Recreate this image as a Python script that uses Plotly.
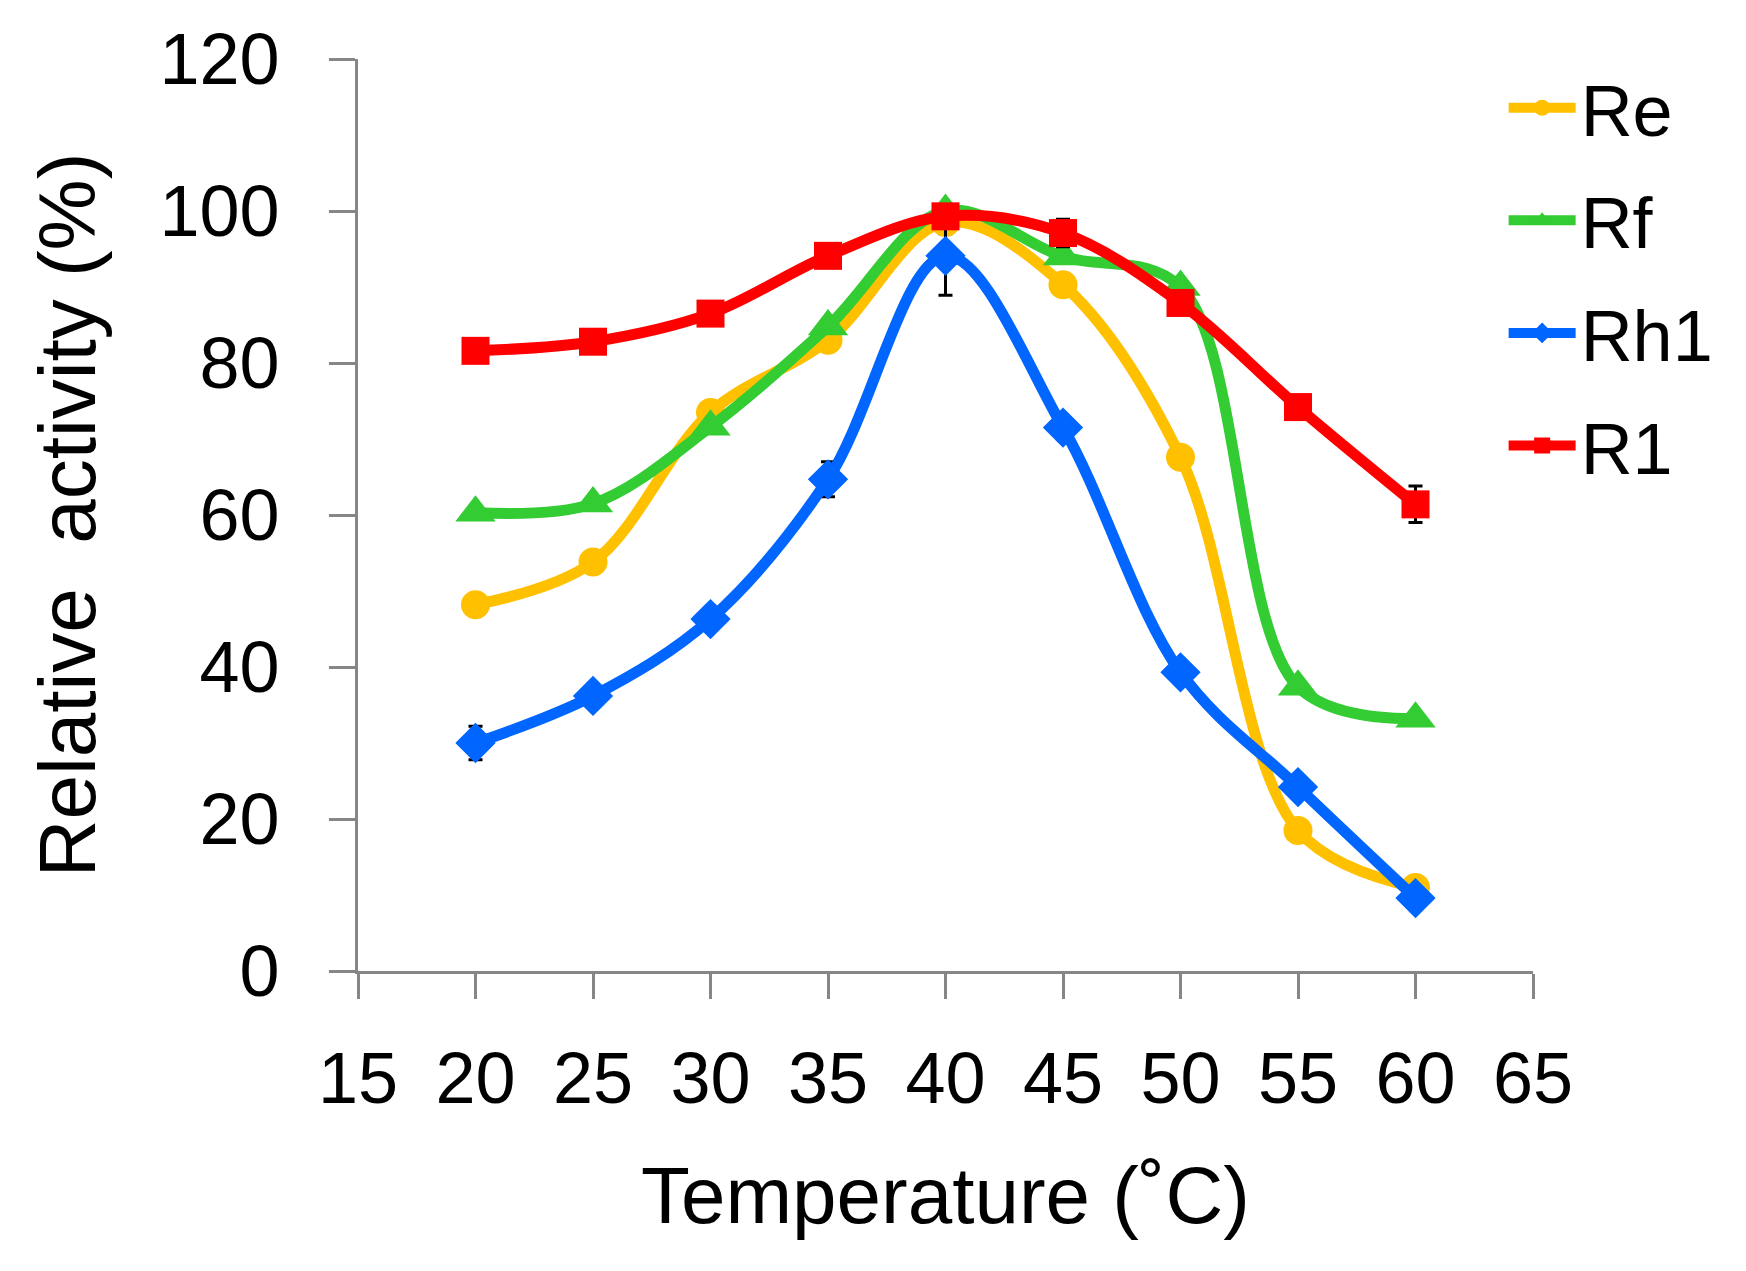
import plotly.graph_objects as go

# =====================
# DATA
# =====================
temperature = [20, 25, 30, 35, 40, 45, 50, 55, 60]

re_vals  = [48.2, 53.8, 73.5, 83.0, 98.5, 90.3, 67.6, 18.5, 11.0]
rf_vals  = [60.3, 61.5, 71.6, 84.8, 100.0, 94.0, 90.0, 37.4, 33.2]
rh1_vals = [30.0, 36.2, 46.3, 64.7, 94.1, 71.5, 39.3, 24.2, 9.6]
r1_vals  = [81.6, 82.8, 86.5, 94.1, 99.3, 97.1, 87.9, 74.2, 61.4]

re_err  = [0.8, 1.2, 0.8, 0.8, 1.5, 0.8, 0.8, 0.8, 0.8]
rf_err  = [0.6, 0.6, 0.6, 0.6, 0.6, 0.6, 0.6, 0.6, 0.6]
rh1_err = [2.2, 0.8, 0.8, 2.3, 5.2, 0.8, 0.8, 0.8, 0.8]
r1_err  = [0.8, 0.8, 0.8, 0.8, 0.8, 1.8, 0.8, 0.8, 2.4]

series_names = ["Re", "Rf", "Rh1", "R1"]

# =====================
# STYLE
# =====================
colors  = {"Re": "#FFC000", "Rf": "#33CC33", "Rh1": "#0066FF", "R1": "#FF0000"}
symbols = {"Re": "circle", "Rf": "triangle-up", "Rh1": "diamond", "R1": "square"}
sizes   = {"Re": 29, "Rf": 35, "Rh1": 31, "R1": 28}
axis_gray = "#868686"
font_family = "Liberation Sans, Arial, sans-serif"

values = {"Re": re_vals, "Rf": rf_vals, "Rh1": rh1_vals, "R1": r1_vals}
errors = {"Re": re_err, "Rf": rf_err, "Rh1": rh1_err, "R1": r1_err}

fig = go.Figure()
for name in series_names:
    fig.add_trace(go.Scatter(
        x=temperature,
        y=values[name],
        name=name,
        legendgroup=name,
        mode="lines+markers",
        line=dict(color=colors[name], width=11, shape="spline", smoothing=1.0),
        marker=dict(symbol=symbols[name], size=sizes[name], color=colors[name]),
        error_y=dict(type="data", array=errors[name], color="black",
                     thickness=3, width=7, visible=True),
    ))

# page body has an 8px margin, so the margins are shifted by that much
fig.update_layout(
    width=1746,
    height=1271,
    paper_bgcolor="white",
    plot_bgcolor="white",
    font=dict(family=font_family, size=72, color="black"),
    margin=dict(l=350, r=221, t=51, b=308, autoexpand=False),
    showlegend=True,
    legend=dict(
        x=0.975, y=1.005, xanchor="left", yanchor="top",
        font=dict(size=72, color="black"),
        bgcolor="rgba(0,0,0,0)",
        tracegroupgap=16,
        itemwidth=67,
        itemsizing="trace",
    ),
    xaxis=dict(
        range=[15, 65], tickmode="linear", tick0=15, dtick=5,
        showline=True, linecolor=axis_gray, linewidth=3,
        ticks="outside", ticklen=25, tickwidth=3, tickcolor=axis_gray,
        showgrid=False, zeroline=False,
        ticklabelstandoff=18,
        title=dict(text="Temperature (˚C)", font=dict(size=80), standoff=50),
        automargin=False,
    ),
    yaxis=dict(
        range=[0, 120], tickmode="linear", tick0=0, dtick=20,
        showline=True, linecolor=axis_gray, linewidth=3,
        ticks="outside", ticklen=26, tickwidth=3, tickcolor=axis_gray,
        showgrid=False, zeroline=False,
        ticklabelstandoff=35,
        title=dict(text="Relative\u00a0 activity (%)", font=dict(size=80), standoff=38),
        automargin=False,
    ),
)

fig.write_html("out.html")
